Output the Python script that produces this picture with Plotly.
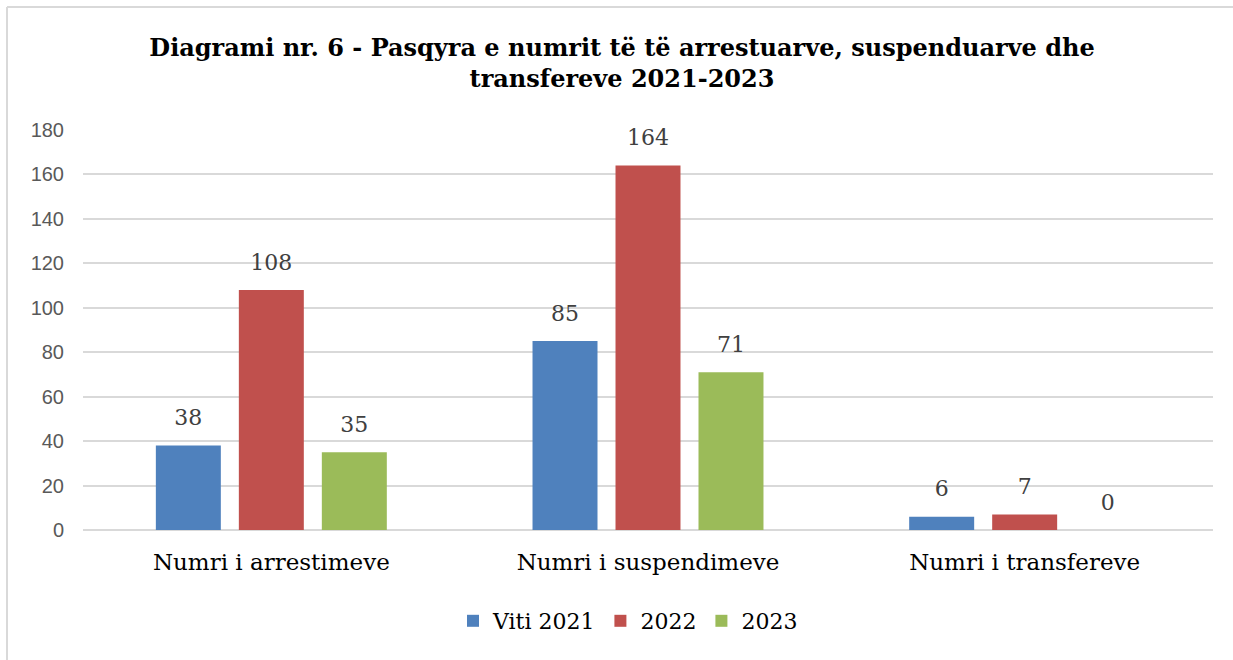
import plotly.graph_objects as go

categories = ["Numri i arrestimeve", "Numri i suspendimeve", "Numri i transfereve"]
series_names = ["Viti 2021", "2022", "2023"]
v2021 = [38, 85, 6]
v2022 = [108, 164, 7]
v2023 = [35, 71, 0]
colors = ["#4F81BD", "#C0504D", "#9BBB59"]
title_line1 = "Diagrami nr. 6 - Pasqyra e numrit të të arrestuarve, suspenduarve dhe"
title_line2 = "transfereve 2021-2023"

serif = "DejaVu Serif, serif"
sans = "Liberation Sans, Arial, sans-serif"

W, H = 1233, 660
L, R, T, B = 83, 20, 130, 130
pw, ph = W - L - R, H - T - B

fig = go.Figure()
for name, vals, col in zip(series_names, [v2021, v2022, v2023], colors):
    fig.add_trace(go.Bar(
        x=categories, y=vals, name=name,
        marker=dict(color=col, line=dict(width=0)),
        hoverinfo="skip",
    ))
# value labels (transparent markers give the label offset above the bar top)
for name, vals in zip(series_names, [v2021, v2022, v2023]):
    fig.add_trace(go.Scatter(
        x=categories, y=vals, mode="markers+text", showlegend=False,
        text=[str(v) for v in vals], textposition="top center",
        textfont=dict(family=serif, size=22, color="#404040"),
        marker=dict(size=22, color="rgba(0,0,0,0)"),
        cliponaxis=False, hoverinfo="skip",
    ))

border = dict(color="#D9D9D9", width=2)
fig.update_layout(
    width=W, height=H,
    paper_bgcolor="white", plot_bgcolor="white",
    margin=dict(l=L, r=R, t=T, b=B, autoexpand=False),
    title=dict(text="<b>" + title_line1 + "<br>" + title_line2 + "</b>",
               x=(622 - L) / pw, xanchor="center", xref="paper",
               y=1 - 56 / H, yanchor="middle", yref="container",
               font=dict(family=serif, size=24, color="black")),
    barmode="group", bargap=0.339, bargroupgap=0.217,
    scattermode="group", scattergap=0.339,
    showlegend=True,
    legend=dict(orientation="h", x=(628 - L) / pw, xanchor="center",
                y=(530 - 621) / ph, yanchor="middle",
                font=dict(family=serif, size=22, color="black"),
                traceorder="normal", itemwidth=30, tracegroupgap=0),
    yaxis=dict(range=[0, 180], dtick=20, showgrid=True, gridcolor="#D9D9D9",
               gridwidth=1.5, zeroline=True, zerolinecolor="#D9D9D9", zerolinewidth=1.5,
               showline=False, ticks="", ticklabelstandoff=18, automargin=False,
               tickfont=dict(family=sans, size=20, color="#595959")),
    xaxis=dict(showline=False, ticks="", showgrid=False, ticklabelstandoff=16,
               automargin=False,
               tickfont=dict(family=serif, size=23, color="black")),
    shapes=[
        dict(type="line", xref="paper", yref="paper",
             x0=(7 - L) / pw, x1=(7 - L) / pw, y0=-(H - T - ph) / ph, y1=1 + (T - 7) / ph,
             line=border, layer="below"),
        dict(type="line", xref="paper", yref="paper",
             x0=(7 - L) / pw, x1=(W - L) / pw, y0=1 + (T - 7) / ph, y1=1 + (T - 7) / ph,
             line=border, layer="below"),
    ],
)
fig.write_html("out.html", config={"displayModeBar": False},
               post_script="document.body.style.margin='0';document.body.style.overflow='hidden';")
